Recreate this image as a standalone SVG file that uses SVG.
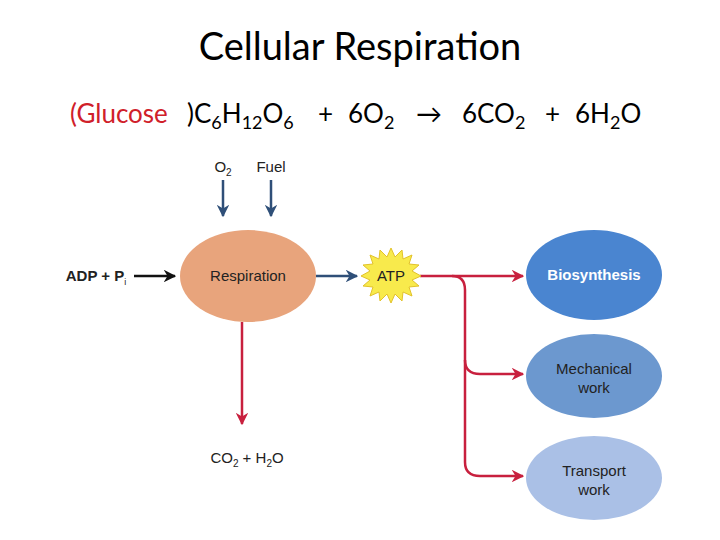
<svg xmlns="http://www.w3.org/2000/svg" width="720" height="540" viewBox="0 0 720 540">
<defs>
<style>
.t{font-family:"Liberation Sans",Arial,sans-serif;font-size:15px;fill:#222;text-anchor:middle}
.h{font-family:"Lato","Open Sans",sans-serif;fill:#000}
.r{fill:none;stroke:#c8203e;stroke-width:2.5}
.b{fill:none;stroke:#2f4f78;stroke-width:2.5}
</style>
<marker id="ar" viewBox="0 0 10 10" refX="9" refY="5" markerWidth="5" markerHeight="5" orient="auto"><path d="M0,0L10,5L0,10L3,5z" fill="#c8203e"/></marker>
<marker id="ab" viewBox="0 0 10 10" refX="9" refY="5" markerWidth="5" markerHeight="5" orient="auto"><path d="M0,0L10,5L0,10L3,5z" fill="#2f4f78"/></marker>
<marker id="ak" viewBox="0 0 10 10" refX="9" refY="5" markerWidth="5" markerHeight="5" orient="auto"><path d="M0,0L10,5L0,10L3,5z" fill="#111"/></marker>
</defs>
<rect width="720" height="540" fill="#fff"/>
<text class="h" x="360" y="60" font-size="38" text-anchor="middle">Cellular Respiration</text>
<text class="h" y="123" font-size="26"><tspan x="70" fill="#d0202a">(Glucose </tspan><tspan x="187">)C</tspan><tspan font-size="18" dy="6">6</tspan><tspan dy="-6">H</tspan><tspan font-size="18" dy="6">12</tspan><tspan dy="-6">O</tspan><tspan font-size="18" dy="6">6</tspan><tspan x="318" dy="-6">+</tspan><tspan x="348">6O</tspan><tspan font-size="18" dy="6">2</tspan><tspan x="416" dy="-6">→</tspan><tspan x="462">6CO</tspan><tspan font-size="18" dy="6">2</tspan><tspan x="545" dy="-6">+</tspan><tspan x="575">6H</tspan><tspan font-size="18" dy="6">2</tspan><tspan dy="-6">O</tspan></text>
<g id="connectors">
<path class="b" d="M223,180V216" marker-end="url(#ab)"/>
<path class="b" d="M271,180V216" marker-end="url(#ab)"/>
<path d="M134,276H175" fill="none" stroke="#111" stroke-width="2.5" marker-end="url(#ak)"/>
<path class="b" d="M316,276H357" marker-end="url(#ab)"/>
<path class="r" d="M242,322V424" marker-end="url(#ar)"/>
<path class="r" d="M420,276H452Q465,276 465,290V462Q465,476 480,476H523" marker-end="url(#ar)"/>
<path class="r" d="M452,276H523" marker-end="url(#ar)"/>
<path class="r" d="M465,360Q465,374 480,374H523" marker-end="url(#ar)"/>
</g>
<g id="o2"><text class="t" x="223" y="172">O<tspan font-size="10" dy="4">2</tspan></text></g>
<g id="fuel"><text class="t" x="271" y="172">Fuel</text></g>
<g id="adp"><text class="t" x="96" y="281" font-weight="bold" font-size="15">ADP + P<tspan font-size="9" dy="4" font-weight="normal">i</tspan></text></g>
<g id="respiration"><ellipse cx="248" cy="276" rx="68" ry="46" fill="#e8a47c"/><text class="t" x="248" y="281">Respiration</text></g>
<g id="atp"><polygon fill="#f8ea4c" stroke="#e2c22a" stroke-width="1" points="391,248 395,257 402,250 403,259 412,255 409,264 419,265 412,271 421,276 412,280 419,286 409,287 412,296 403,292 402,301 395,294 391,303 387,294 380,301 379,292 370,296 373,287 363,286 370,280 361,276 370,271 363,265 373,264 370,255 379,259 380,250 387,257"/><text class="t" x="391" y="281">ATP</text></g>
<g id="biosynthesis"><ellipse cx="594" cy="275" rx="68" ry="45" fill="#4a85d0"/><text class="t" x="594" y="280" font-weight="bold" style="fill:#fff">Biosynthesis</text></g>
<g id="mechanical"><ellipse cx="594" cy="376" rx="68" ry="42" fill="#6c98cf"/><text class="t" x="594" y="374">Mechanical</text><text class="t" x="594" y="393">work</text></g>
<g id="transport"><ellipse cx="594" cy="478" rx="68" ry="42" fill="#aac0e6"/><text class="t" x="594" y="476">Transport</text><text class="t" x="594" y="495">work</text></g>
<g id="products"><text class="t" x="247" y="463">CO<tspan font-size="10" dy="4">2</tspan><tspan dy="-4"> + H</tspan><tspan font-size="10" dy="4">2</tspan><tspan dy="-4">O</tspan></text></g>
</svg>
